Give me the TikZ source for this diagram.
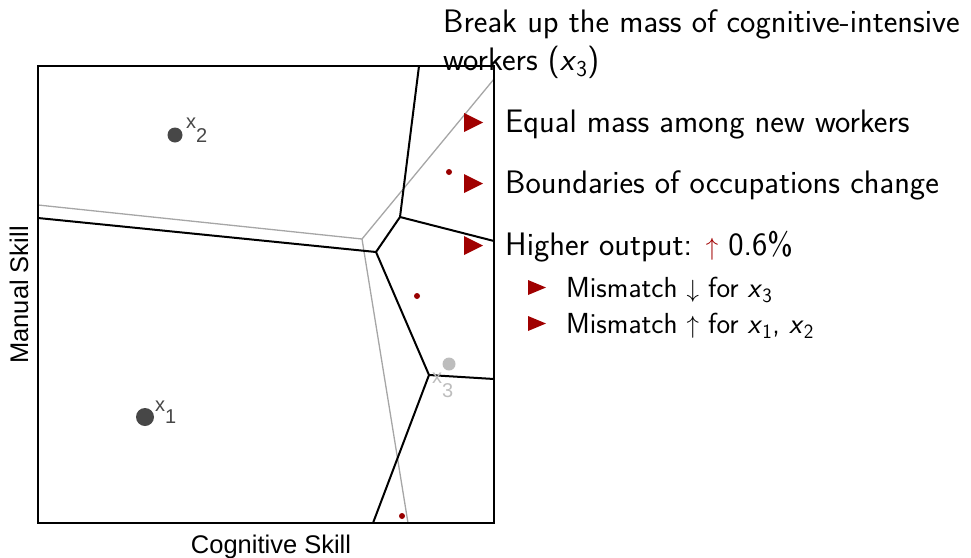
\documentclass[tikz,border=0pt]{standalone}
\usepackage{fontspec}
\newfontfamily\plotfont{Liberation Sans}
\definecolor{bred}{HTML}{A00000}
\definecolor{dred}{HTML}{990000}
\definecolor{dgray}{HTML}{474747}
\definecolor{lgray}{HTML}{BDBDBD}
\definecolor{lgline}{HTML}{A6A6A6}
\newcommand\vx[1]{\textit{x}\textsubscript{#1}}
\begin{document}
\begin{tikzpicture}[x=1pt,y=-1pt,
  bline/.style={black,line width=2pt,line join=round},
  gline/.style={lgline,line width=1.3pt,line join=round},
  dot/.style={circle,inner sep=0pt,fill=#1},
  plab/.style={font=\plotfont\fontsize{20}{20}\selectfont,inner sep=0pt,anchor=base west},
  axlab/.style={font=\plotfont\fontsize{25.5}{25.5}\selectfont,inner sep=0pt},
  main/.style={font=\sffamily\fontsize{32.5}{38}\selectfont,inner sep=0pt,anchor=base west},
  sub/.style={font=\sffamily\fontsize{29}{34}\selectfont,inner sep=0pt,anchor=base west},
  tri/.style={fill=bred}]
\useasboundingbox (0,0) rectangle (971,557);
% vertices
\coordinate (A) at (419,66);
\coordinate (B) at (400,217);
\coordinate (C) at (494,241);
\coordinate (D) at (376,252);
\coordinate (E) at (38,218);
\coordinate (F) at (429,375);
\coordinate (G) at (494,379);
\coordinate (H) at (373,523);
\coordinate (P) at (38,205);
\coordinate (Q) at (362,239);
\coordinate (R) at (494,79);
\coordinate (S) at (408,523);
% old boundaries
\draw[gline] (P) -- (Q) -- (R);
\draw[gline] (Q) -- (S);
% new boundaries
\draw[bline] (A) -- (B) -- (C);
\draw[bline] (B) -- (D) -- (E);
\draw[bline] (D) -- (F) -- (G);
\draw[bline] (F) -- (H);
% frame
\draw[black,line width=1.8pt] (38,66) rectangle (494,523);
% workers
\node[dot=dgray,minimum size=15pt] (x2) at (175,135) {};
\node[dot=dgray,minimum size=18pt] (x1) at (145,417) {};
\node[dot=lgray,minimum size=13pt] (x3) at (449,364) {};
\node[dot=dred,minimum size=6pt] (r1) at (449,172) {};
\node[dot=dred,minimum size=6pt] (r2) at (417,296) {};
\node[dot=dred,minimum size=6pt] (r3) at (402,516) {};
\node[plab,text=dgray] (l2) at (186,128) {x\raisebox{-14pt}{2}};
\node[plab,text=dgray] (l1) at (155,411) {x\raisebox{-12pt}{1}};
\node[plab,text=lgray] (l3) at (432,383) {x\raisebox{-14pt}{3}};
% axes labels
\node[axlab,anchor=base] (xl) at (271,553) {Cognitive Skill};
\node[axlab,anchor=base,rotate=90] (yl) at (28,295) {Manual Skill};
% text
\node[main] (t1) at (443,32) {Break up the mass of cognitive-intensive};
\node[main] (t2) at (443,70) {workers (\vx{3})};
\node[main] (i1) at (505,132) {Equal mass among new workers};
\node[main] (i2) at (505,193) {Boundaries of occupations change};
\node[main] (i3) at (505,255) {Higher output: \textcolor{bred}{$\uparrow$} 0.6\%};
\node[sub] (s1) at (566,297) {Mismatch $\downarrow$ for \vx{3}};
\node[sub] (s2) at (566,333) {Mismatch $\uparrow$ for \vx{1}, \vx{2}};
% bullets
\foreach \b in {132,193,255}
  \fill[tri] (464,\b-19) -- (483,\b-9.5) -- (464,\b) -- cycle;
\foreach \b in {297,333}
  \fill[tri] (528,\b-17) -- (546,\b-9.5) -- (528,\b-2) -- cycle;
\end{tikzpicture}
\end{document}
